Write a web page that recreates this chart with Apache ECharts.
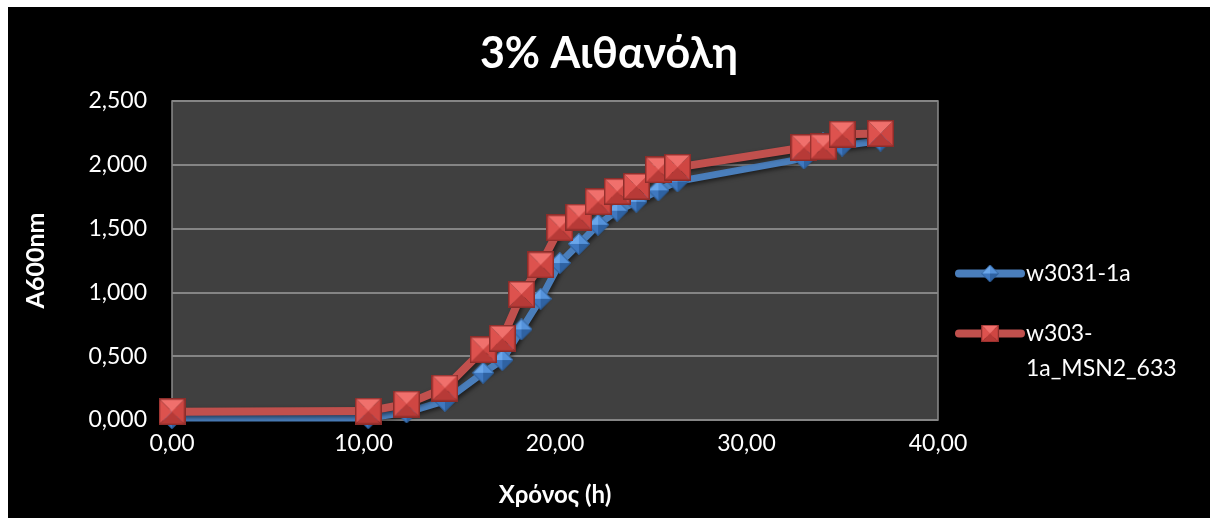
<!DOCTYPE html>
<html>
<head>
<meta charset="utf-8">
<script src="https://cdn.jsdelivr.net/npm/echarts@6/dist/echarts.min.js"></script>
<style>
  html, body { margin: 0; padding: 0; background: #ffffff; }
  #chart { position: absolute; left: 8px; top: 7px; width: 1202px; height: 511px; background: #000000; }
</style>
</head>
<body>
<div id="chart"></div>
<script>
// Growth in 3% ethanol: optical density at 600 nm over time (hours)
const timeH = [0, 10.25, 12.25, 14.25, 16.25, 17.25, 18.25, 19.25, 20.25, 21.25, 22.25, 23.25, 24.25, 25.4, 26.4, 33, 34, 35, 37];
const w3031 = [0.015, 0.015, 0.06, 0.15, 0.37, 0.47, 0.71, 0.95, 1.23, 1.38, 1.53, 1.64, 1.71, 1.80, 1.87, 2.05, 2.17, 2.15, 2.19];
const msn2  = [0.065, 0.07, 0.125, 0.25, 0.55, 0.64, 0.985, 1.215, 1.505, 1.59, 1.71, 1.79, 1.83, 1.96, 1.98, 2.135, 2.14, 2.24, 2.245];
const seriesNames = ['w3031-1a', 'w303-1a_MSN2_633'];
const titleText = '3% Αιθανόλη';
const yTitle = 'A600nm';
const xTitle = 'Χρόνος (h)';

const FONT = 'Lato, "Open Sans", "Noto Sans", sans-serif';

// Bevelled (pyramid) marker images
function squareMarker(s) {
  const c = document.createElement('canvas');
  c.width = s; c.height = s;
  const g = c.getContext('2d');
  const m = s / 2;
  const tri = (pts, col) => {
    g.beginPath(); g.moveTo(pts[0][0], pts[0][1]);
    for (let i = 1; i < pts.length; i++) g.lineTo(pts[i][0], pts[i][1]);
    g.closePath(); g.fillStyle = col; g.fill();
  };
  tri([[0, 0], [s, 0], [m, m]], '#f0706c');
  tri([[0, 0], [0, s], [m, m]], '#dd524e');
  tri([[s, 0], [s, s], [m, m]], '#cf4642');
  tri([[0, s], [s, s], [m, m]], '#b73a37');
  g.strokeStyle = '#8c2d2a'; g.lineWidth = 1.5;
  g.strokeRect(0.75, 0.75, s - 1.5, s - 1.5);
  return c.toDataURL();
}
function diamondMarker(s) {
  const c = document.createElement('canvas');
  c.width = s; c.height = s;
  const g = c.getContext('2d');
  const m = s / 2;
  const tri = (pts, col) => {
    g.beginPath(); g.moveTo(pts[0][0], pts[0][1]);
    for (let i = 1; i < pts.length; i++) g.lineTo(pts[i][0], pts[i][1]);
    g.closePath(); g.fillStyle = col; g.fill();
  };
  tri([[m, 0], [0, m], [m, m]], '#6aa6ea');
  tri([[m, 0], [s, m], [m, m]], '#5592da');
  tri([[0, m], [m, s], [m, m]], '#3f78c0');
  tri([[s, m], [m, s], [m, m]], '#2f62a2');
  g.beginPath(); g.moveTo(m, 0.5); g.lineTo(s - 0.5, m); g.lineTo(m, s - 0.5); g.lineTo(0.5, m); g.closePath();
  g.strokeStyle = '#2b5a94'; g.lineWidth = 1; g.stroke();
  return c.toDataURL();
}

const blueSym = 'image://' + diamondMarker(22);
const redSym = 'image://' + squareMarker(27);

const pairs = (xs, ys) => xs.map((x, i) => [x, ys[i]]);
const lineShadow = { shadowColor: 'rgba(0,0,0,0.55)', shadowBlur: 4, shadowOffsetX: 2, shadowOffsetY: 2 };

const chart = echarts.init(document.getElementById('chart'), null, { renderer: 'canvas' });
chart.setOption({
  backgroundColor: '#000000',
  animation: false,
  textStyle: { fontFamily: FONT },
  title: {
    text: titleText,
    left: 'center',
    top: 26,
    padding: 0,
    textStyle: { color: '#ffffff', fontSize: 43, fontWeight: 'bold', fontFamily: FONT }
  },
  legend: [
    {
      data: [seriesNames[0]],
      left: 947, top: 255, padding: 0,
      itemWidth: 62, itemHeight: 22, itemGap: 5,
      lineStyle: { width: 8, cap: 'round' },
      textStyle: { color: '#ffffff', fontSize: 23, fontFamily: FONT }
    },
    {
      data: [seriesNames[1]],
      left: 947, top: 274, padding: 0,
      itemWidth: 62, itemHeight: 22, itemGap: 5,
      lineStyle: { width: 8, cap: 'round' },
      formatter: () => '\nw303-\n1a_MSN2_633',
      textStyle: { color: '#ffffff', fontSize: 23, lineHeight: 35, fontFamily: FONT }
    }
  ],
  grid: {
    left: 164, top: 94, width: 766, height: 319,
    show: true, backgroundColor: '#404040', borderColor: '#8a8a8a', borderWidth: 1.5,
    containLabel: false, outerBoundsMode: 'none'
  },
  xAxis: {
    type: 'value', min: 0, max: 40, interval: 10,
    name: xTitle, nameLocation: 'middle', nameGap: 63,
    nameTextStyle: { color: '#ffffff', fontSize: 24, fontWeight: 'bold', fontFamily: FONT },
    axisLine: { show: false }, axisTick: { show: false },
    splitLine: { show: false },
    axisLabel: {
      color: '#ffffff', fontSize: 23, margin: 12, fontFamily: FONT,
      formatter: v => v.toFixed(2).replace('.', ',')
    }
  },
  yAxis: {
    type: 'value', min: 0, max: 2.5, interval: 0.5,
    name: yTitle, nameLocation: 'middle', nameGap: 124,
    nameTextStyle: { color: '#ffffff', fontSize: 25, fontWeight: 'bold', fontFamily: FONT },
    axisLine: { show: false }, axisTick: { show: false },
    splitLine: { show: true, lineStyle: { color: '#858585', width: 2 } },
    axisLabel: {
      color: '#ffffff', fontSize: 23, margin: 25, fontFamily: FONT,
      formatter: v => v.toFixed(3).replace('.', ',')
    }
  },
  series: [
    {
      name: seriesNames[0], type: 'line',
      data: pairs(timeH, w3031),
      symbol: blueSym, symbolSize: 22,
      color: '#4a7ebb',
      lineStyle: Object.assign({ color: '#4a7ebb', width: 7 }, lineShadow),
      z: 2
    },
    {
      name: seriesNames[1], type: 'line',
      data: pairs(timeH, msn2),
      symbol: redSym, symbolSize: 27,
      color: '#c0504d',
      lineStyle: Object.assign({ color: '#c0504d', width: 8 }, lineShadow),
      z: 3
    }
  ]
});
</script>
</body>
</html>
